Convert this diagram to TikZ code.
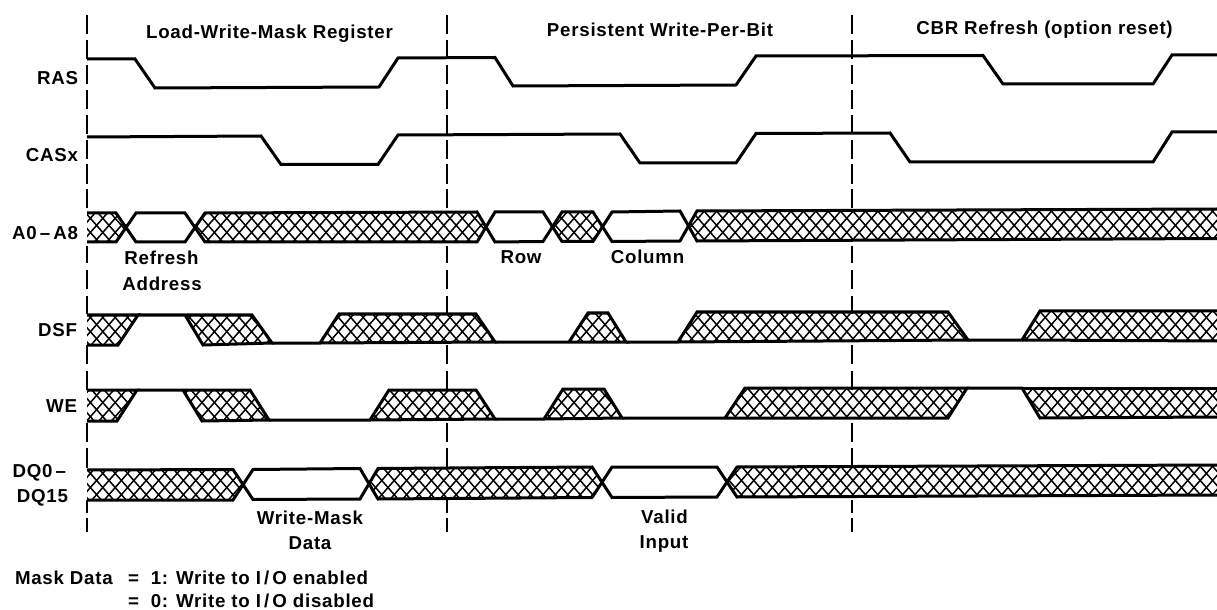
\documentclass[tikz,border=0pt]{standalone}
\usepackage{fontspec}
\setmainfont{Liberation Sans}[LetterSpace=4]
\tikzset{
  wave/.style={line width=3bp,line join=miter,miter limit=3,black},
  hatchline/.style={line width=1.5bp,black},
  marker/.style={line width=1.7bp,black},
  lbl/.style={inner sep=0pt,outer sep=0pt,anchor=base,font=\fontsize{18.7bp}{20bp}\selectfont\bfseries},
  lblr/.style={lbl,anchor=base east},
  lbll/.style={lbl,anchor=base west}
}
\newcommand\hatchregions{
  (87,213)--(116,213)--(126,228)--(116,242)--(87,242)--cycle
  (195,228)--(205,213)--(477,212)--(486,227)--(477,242)--(205,242)--cycle
  (553,227)--(562,212)--(593,212)--(603,227)--(593,241.5)--(562,241.5)--cycle
  (689,226)--(697,211)--(1217,209)--(1217,238.5)--(697,241)--cycle
  (87,315)--(138,315)--(118,345)--(87,345)--cycle
  (185,315)--(252,315)--(272,343)--(203,345)--cycle
  (320,343)--(339,314)--(476,314)--(495,342)--cycle
  (569,342)--(588,313)--(608,313)--(626,342)--cycle
  (678,342)--(697,312)--(948,312)--(968,340)--cycle
  (1022,340)--(1040,311)--(1217,311)--(1217,341)--cycle
  (87,390)--(137,390)--(117,421)--(87,421)--cycle
  (183,390)--(250,390)--(269,420)--(202,421)--cycle
  (370,420)--(389,390)--(476,390)--(495,419)--cycle
  (544,419)--(563,389)--(604,389)--(622,418)--cycle
  (725,418)--(745,388)--(967,388)--(948,418)--cycle
  (1022,388)--(1040,418)--(1217,417)--(1217,388)--cycle
  (87,470)--(233,469.5)--(243,484.5)--(233,500)--(87,500)--cycle
  (370,484)--(378,468.5)--(592,467)--(602,482)--(592,497.5)--(378,499)--cycle
  (727,482)--(737,467)--(1217,465)--(1217,495)--(737,497)--cycle
}
\begin{document}
\begin{tikzpicture}[x=1bp,y=-1bp]
\useasboundingbox (0,0) rectangle (1217,610);
% boundary dashed markers
\foreach \xm in {87,447,852}{
  \foreach \ya/\yb in {15/34,40/59,65/84,90/109,115/134,140/159,164/184,189/208,
                       246/263,270/289,296/314,345/364,371/390,423/442,448/468,500/513,518/532}{
    \draw[marker] (\xm,\ya) -- (\xm,\yb);
  }
}
% RAS
\draw[wave] (87,59)--(135,59)--(155,88)--(379,87)--(398,58)--(495,57.5)--(513,86)--(736,85)--(756,56)--(983,55.5)--(1003,84)--(1153,84)--(1172,55)--(1217,55);
% CASx
\draw[wave] (87,137)--(261,136)--(281,164.5)--(378,164.5)--(398,135)--(620,134)--(640,163)--(736,163)--(756,133.5)--(890,133)--(910,162)--(1153,162)--(1172,132)--(1217,132);
% cross-hatching
\begin{scope}
  \clip \hatchregions;
  \foreach \i in {-50,...,105}{
    \pgfmathsetmacro\xa{\i*12.4}
    \draw[hatchline] (\xa,200) -- ({\xa+280},520);
    \draw[hatchline] (\xa,520) -- ({\xa+280},200);
  }
\end{scope}
% A0-A8
\draw[wave] (87,213)--(116,213)--(136,242)--(185,242)--(205,213)--(477,212)--(495,242)--(543,241.5)--(562,212)--(593,212)--(612,241.5)--(680,241)--(697,211)--(1217,209);
\draw[wave] (87,242)--(116,242)--(136,213)--(185,213)--(205,242)--(477,242)--(495,212)--(543,212)--(562,241.5)--(593,241.5)--(612,212)--(680,211)--(697,241)--(1217,238.5);
% DSF
\draw[wave] (87,315)--(138,315)--(118,345)--(87,345);
\draw[wave] (138,315)--(185,315)--(203,345)--(272,343)--(252,315)--(185,315);
\draw[wave] (272,343)--(320,343)--(339,314)--(476,314)--(495,342)--(320,343);
\draw[wave] (495,342)--(569,342)--(588,313)--(608,313)--(626,342)--(569,342);
\draw[wave] (626,342)--(678,342)--(697,312)--(948,312)--(968,340)--(678,342);
\draw[wave] (968,340)--(1022,340)--(1040,311)--(1217,311);
\draw[wave] (1022,340)--(1217,341);
% WE
\draw[wave] (87,390)--(137,390)--(117,421)--(87,421);
\draw[wave] (137,390)--(183,390)--(202,421)--(269,420)--(250,390)--(183,390);
\draw[wave] (269,420)--(370,420)--(389,390)--(476,390)--(495,419)--(370,420);
\draw[wave] (495,419)--(544,419)--(563,389)--(604,389)--(622,418)--(544,419);
\draw[wave] (622,418)--(725,418)--(745,388)--(967,388)--(948,418)--(725,418);
\draw[wave] (967,388)--(1022,388)--(1040,418)--(1217,417);
\draw[wave] (1022,388)--(1217,388);
% DQ
\draw[wave] (87,470)--(233,469.5)--(253,499.5)--(360,499)--(378,468.5)--(592,467)--(612,497.5)--(717,497)--(737,467)--(1217,465);
\draw[wave] (87,500)--(233,500)--(253,469.5)--(360,468.5)--(378,499)--(592,497.5)--(612,467)--(717,467)--(737,497)--(1217,495);
% titles
\node[lbl] (t1) at (269.5,38.5) {Load-Write-Mask Register};
\node[lbl] (t2) at (660,36.5) {Persistent Write-Per-Bit};
\node[lbl] (t3) at (1044.5,34.5) {CBR Refresh (option reset)};
% signal names
\node[lblr] (ras) at (78,84.5) {RAS};
\node[lblr] (cas) at (78,161.5) {CASx};
\node[lblr] (aa) at (78,239.5) {A0\,–\,A8};
\node[lblr] (dsf) at (77,336.5) {DSF};
\node[lblr] (we) at (77,412.5) {WE};
\node[lblr] (dqa) at (66,477) {DQ0\,–};
\node[lblr] (dqb) at (68,502.5) {DQ15};
% annotations
\node[lbl] (ra) at (161.5,265) {Refresh};
\node[lbl] (rb) at (162,290.5) {Address};
\node[lbl] (row) at (521,263.5) {Row};
\node[lbl] (col) at (647.5,263.5) {Column};
\node[lbl] (wm) at (310,524.5) {Write-Mask};
\node[lbl] (wd) at (310,549.5) {Data};
\node[lbl] (va) at (664.5,523.5) {Valid};
\node[lbl] (vb) at (664,548.5) {Input};
% note
\node[lbll] (md) at (15,584) {Mask Data};
\node[lbll] (e1) at (128,584) {=\ \ 1: Write to I\,/\,O enabled};
\node[lbll] (e0) at (128,607.5) {=\ \ 0: Write to I\,/\,O disabled};
\end{tikzpicture}
\end{document}
